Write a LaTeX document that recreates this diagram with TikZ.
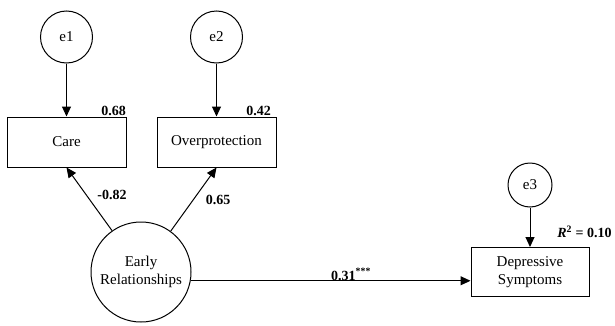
\documentclass[tikz,border=0pt]{standalone}
\usepackage{fontspec}
\setmainfont{Liberation Serif}
\usepackage{tikz}
\usetikzlibrary{arrows.meta,shapes,calc}

\begin{document}
\begin{tikzpicture}[
    x=1pt, y=1pt,
    err/.style={circle, draw, line width=1pt, minimum size=52pt,
                inner sep=0pt, font=\fontsize{15}{18}\selectfont},
    obs/.style={rectangle, draw, line width=1pt, minimum width=119pt,
                minimum height=50pt, inner sep=2pt, align=center,
                font=\fontsize{15}{18}\selectfont},
    lat/.style={circle, draw, line width=1pt, minimum size=100pt,
                inner sep=0pt, align=center,
                font=\fontsize{15}{18}\selectfont},
    coef/.style={inner sep=0pt, font=\fontsize{14}{16}\selectfont\bfseries},
    arr/.style={line width=1pt, -{Triangle[length=10pt,width=9pt]}},
  ]
  \useasboundingbox (0,0) rectangle (615,325);

  % Error terms
  \node[err] (e1) at (66.5, 288) {e1};
  \node[err] (e2) at (216.5, 288) {e2};
  \node[err, minimum size=44pt] (e3) at (530, 140) {e3};

  % Observed variables
  \node[obs] (care) at (66.5, 183) {Care};
  \node[obs] (over) at (216.5, 183) {Overprotection};
  \node[obs, minimum width=118pt, minimum height=49pt] (dep) at (530, 53)
    {Depressive\\Symptoms};

  % Latent factor
  \node[lat] (er) at (141, 53) {Early\\Relationships};

  % Coefficients
  \node[coef] (l68) at (113.5, 214.5) {0.68};
  \node[coef] (l42) at (258.5, 214.5) {0.42};
  \node[coef] (l82) at (112, 130) {-0.82};
  \node[coef] (l65) at (218, 125) {0.65};
  \node[coef, anchor=base west] (l31) at (331, 45) {0.31\textsuperscript{***}};
  \node[coef] (r2) at (584.5, 93) {\textit{R}\textsuperscript{2} = 0.10};

  % Paths
  \draw[arr] (e1) -- (care);
  \draw[arr] (e2) -- (over);
  \draw[arr] (e3) -- (dep);
  \draw[arr] (er.125) -- (care.south);
  \draw[arr] (er.54) -- (over.south);
  \draw[arr] (er.-10) -- (er.-10 -| dep.west);
\end{tikzpicture}
\end{document}
